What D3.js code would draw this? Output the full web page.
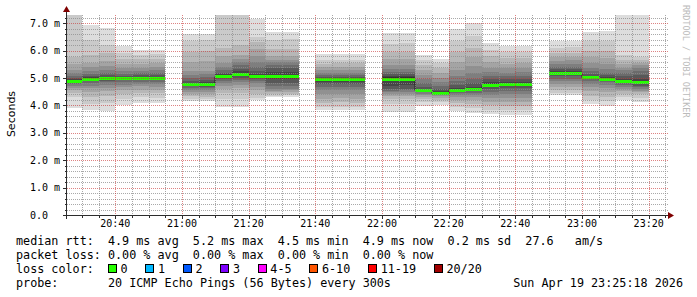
<!DOCTYPE html>
<html>
<head>
<meta charset="utf-8">
<script src="https://cdn.jsdelivr.net/npm/d3@7"></script>
<style>
  body { margin: 0; background: #fff; }
  svg { display: block; }
  text { font-family: "DejaVu Sans Mono", monospace; white-space: pre; }
</style>
</head>
<body>
<svg width="697" height="297"></svg>
<script>
// time window of the graph (3 hours)
var startTime = "20:25:30", endTime = "23:25:30";
var stepMinutes = 5;

// one slot per 300s step, start time of each step
var slotStart = ["20:25","20:30","20:35","20:40","20:45","20:50","20:55","21:00","21:05","21:10",
                 "21:15","21:20","21:25","21:30","21:35","21:40","21:45","21:50","21:55","22:00",
                 "22:05","22:10","22:15","22:20","22:25","22:30","22:35","22:40","22:45","22:50",
                 "22:55","23:00","23:05","23:10","23:15","23:20"];

// median rtt (ms) per slot, null = no data
var medianRtt = [4.90,4.97,4.99,5.00,5.00,5.00,null,4.78,4.78,5.08,
                 5.14,5.09,5.07,5.07,null,4.95,4.95,4.95,null,4.97,
                 4.97,4.55,4.47,4.58,4.60,4.76,4.79,4.79,null,5.19,
                 5.19,5.03,4.98,4.89,4.85,null];

// lost pings per slot (out of 20)
var lossPings = [0,0,0,0,0,0,null,0,0,0, 0,0,0,0,null,0,0,0,null,0,
                 0,0,0,0,0,0,0,0,null,0, 0,0,0,0,0,null];

// the 20 sorted ping times (ms) of every slot
var pings = [
  [3.89,4.31,4.45,4.56,4.65,4.72,4.78,4.83,4.87,4.89,4.91,4.95,5.00,5.07,5.18,5.29,5.50,5.77,7.50,8.60],
  [3.83,4.05,4.31,4.48,4.62,4.72,4.82,4.88,4.93,4.96,4.98,5.02,5.08,5.15,5.26,5.40,5.54,5.85,6.38,6.93],
  [3.79,4.10,4.35,4.52,4.65,4.75,4.84,4.90,4.95,4.98,5.00,5.04,5.10,5.18,5.30,5.45,5.62,5.90,6.20,6.83],
  [4.01,4.25,4.42,4.55,4.66,4.76,4.85,4.91,4.96,4.99,5.01,5.04,5.09,5.16,5.25,5.36,5.50,5.70,5.92,6.17],
  [4.07,4.30,4.46,4.58,4.70,4.79,4.87,4.93,4.97,4.99,5.01,5.05,5.10,5.18,5.27,5.38,5.52,5.68,5.85,6.02],
  [4.07,4.28,4.45,4.57,4.68,4.78,4.86,4.92,4.96,4.99,5.01,5.05,5.11,5.19,5.28,5.40,5.53,5.70,5.86,6.03],
  null,
  [4.15,4.25,4.33,4.42,4.50,4.58,4.64,4.70,4.74,4.77,4.79,4.83,4.90,5.00,5.12,5.25,5.60,5.95,6.35,6.60],
  [4.15,4.24,4.32,4.41,4.50,4.57,4.63,4.69,4.74,4.77,4.79,4.84,4.92,5.02,5.14,5.27,5.62,5.98,6.38,6.60],
  [3.95,4.25,4.45,4.60,4.72,4.82,4.90,4.97,5.02,5.06,5.10,5.14,5.20,5.28,5.40,5.55,5.80,6.10,7.40,8.20],
  [3.94,4.22,4.45,4.62,4.74,4.84,4.92,5.00,5.08,5.12,5.16,5.24,5.34,5.46,5.58,5.70,5.85,6.20,7.45,8.00],
  [4.19,4.26,4.40,4.55,4.68,4.80,4.90,4.98,5.04,5.08,5.10,5.16,5.26,5.40,5.58,5.80,6.05,6.30,6.50,7.17],
  [4.29,4.36,4.42,4.48,4.54,4.60,4.70,4.82,4.95,5.04,5.10,5.22,5.36,5.48,5.58,5.66,5.80,6.05,6.40,6.68],
  [4.29,4.37,4.43,4.49,4.55,4.61,4.71,4.83,4.96,5.04,5.10,5.23,5.37,5.49,5.59,5.67,5.82,6.07,6.42,6.68],
  null,
  [3.83,3.95,4.10,4.25,4.40,4.55,4.67,4.78,4.86,4.93,4.97,5.00,5.04,5.10,5.18,5.28,5.40,5.52,5.66,5.87],
  [3.83,3.96,4.11,4.26,4.41,4.56,4.68,4.78,4.86,4.93,4.97,5.00,5.04,5.10,5.18,5.28,5.40,5.53,5.67,5.87],
  [3.83,3.95,4.10,4.25,4.40,4.55,4.67,4.78,4.87,4.93,4.97,5.01,5.05,5.11,5.19,5.29,5.41,5.53,5.66,5.86],
  null,
  [3.77,4.05,4.22,4.34,4.42,4.48,4.54,4.60,4.72,4.92,5.02,5.08,5.14,5.22,5.33,5.48,5.68,5.95,6.25,6.65],
  [3.77,4.06,4.23,4.35,4.43,4.49,4.55,4.61,4.73,4.92,5.02,5.08,5.15,5.23,5.34,5.49,5.70,5.96,6.26,6.65],
  [3.97,4.12,4.22,4.30,4.37,4.43,4.48,4.51,4.53,4.54,4.56,4.60,4.68,4.80,4.95,5.10,5.28,5.48,5.65,5.83],
  [4.01,4.12,4.21,4.28,4.34,4.39,4.42,4.44,4.46,4.47,4.48,4.52,4.60,4.72,4.86,5.00,5.18,5.38,5.55,5.71],
  [3.79,3.95,4.08,4.20,4.30,4.39,4.46,4.51,4.55,4.57,4.59,4.65,4.75,4.90,5.08,5.30,5.60,5.95,6.35,6.80],
  [3.71,3.90,4.05,4.18,4.29,4.38,4.46,4.52,4.56,4.59,4.61,4.68,4.80,4.98,5.20,5.45,5.75,6.10,6.55,7.01],
  [3.68,3.85,4.00,4.14,4.26,4.38,4.50,4.60,4.68,4.74,4.78,4.85,4.95,5.08,5.22,5.38,5.58,5.80,6.02,6.26],
  [3.65,3.82,3.98,4.12,4.26,4.40,4.52,4.62,4.70,4.76,4.80,4.86,4.95,5.06,5.20,5.35,5.52,5.72,5.95,6.17],
  [3.65,3.83,3.99,4.13,4.27,4.41,4.53,4.63,4.71,4.77,4.81,4.87,4.96,5.07,5.21,5.36,5.53,5.73,5.95,6.17],
  null,
  [4.37,4.45,4.55,4.66,4.77,4.88,4.98,5.06,5.12,5.17,5.21,5.26,5.33,5.42,5.52,5.63,5.76,5.92,6.10,6.36],
  [4.37,4.46,4.56,4.67,4.78,4.89,4.98,5.06,5.12,5.17,5.21,5.26,5.33,5.42,5.52,5.64,5.77,5.93,6.12,6.36],
  [4.05,4.20,4.36,4.52,4.66,4.78,4.88,4.95,4.99,5.02,5.04,5.08,5.14,5.24,5.38,5.55,5.75,6.00,6.35,6.68],
  [3.97,4.15,4.32,4.48,4.62,4.74,4.84,4.91,4.95,4.97,4.99,5.03,5.10,5.20,5.34,5.50,5.72,5.98,6.35,6.72],
  [4.19,4.30,4.42,4.52,4.60,4.68,4.75,4.80,4.85,4.88,4.90,4.96,5.06,5.18,5.28,5.36,5.50,5.65,5.83,8.00],
  [4.13,4.28,4.40,4.48,4.54,4.60,4.66,4.72,4.78,4.83,4.87,4.98,5.12,5.26,5.38,5.46,5.55,5.65,5.77,7.90],
  null
];

// y axis labels
var yTickValues = [0, 1, 2, 3, 4, 5, 6, 7];
var yTickLabels = ["0.0", "1.0 m", "2.0 m", "3.0 m", "4.0 m", "5.0 m", "6.0 m", "7.0 m"];

// legend
var rttStats = [4.9, 5.2, 4.5, 4.9, 0.2];
var rttStatNames = ["avg", "max", "min", "now", "sd"];
var amps = 27.6;
var lossStats = [0.00, 0.00, 0.00, 0.00];
var lossStatNames = ["avg", "max", "min", "now"];
var lossLabels = ["0", "1", "2", "3", "4-5", "6-10", "11-19", "20/20"];
var lossColors = ["#26ff00", "#00b8ff", "#0059ff", "#7e00ff", "#ff00fe", "#ff5500", "#ff0000", "#a10000"];
var lossLimits = [0, 1, 2, 3, 5, 10, 19, 20];
var probeText = "20 ICMP Echo Pings (56 Bytes) every 300s";
var stampText = "Sun Apr 19 23:25:18 2026";

var svg = d3.select("svg");
var plotL = 67, plotR = 667, plotT = 15, plotB = 215;

var parseHMS = d3.timeParse("%H:%M:%S"), parseHM = d3.timeParse("%H:%M");
var t0 = parseHMS(startTime), t1 = parseHMS(endTime);

var x = d3.scaleTime().domain([t0, t1]).range([plotL, plotR]);
var y = d3.scaleLinear().domain([0, 7.3]).range([plotB, plotT]);

svg.append("defs").append("clipPath").attr("id", "plot")
  .append("rect").attr("x", plotL).attr("y", plotT).attr("width", plotR - plotL).attr("height", plotB - plotT);

var slots = slotStart.map(function (s, i) {
  var st = parseHM(s);
  return { start: st, end: d3.timeMinute.offset(st, stepMinutes), med: medianRtt[i], loss: lossPings[i], p: pings[i] };
});

// smoke: ping i .. ping 19-i, darker towards the middle
var bands = [];
slots.forEach(function (s) {
  if (!s.p) return;
  for (var i = 0; i < 10; i++) {
    bands.push({ start: s.start, end: s.end, lo: s.p[i], hi: s.p[19 - i], level: i + 1 });
  }
});
function smokeGray(level) {
  var g = Math.floor(190 / 10 * (10 - level)) + 50;
  return d3.rgb(g, g, g);
}

var plot = svg.append("g").attr("clip-path", "url(#plot)");
plot.selectAll("rect.smoke")
  .data(bands)
  .join("rect")
  .attr("class", "smoke")
  .attr("x", function (d) { return Math.round(x(d.start)); })
  .attr("width", function (d) { return Math.round(x(d.end)) - Math.round(x(d.start)); })
  .attr("y", function (d) { return y(d.hi); })
  .attr("height", function (d) { return y(d.lo) - y(d.hi); })
  .attr("fill", function (d) { return smokeGray(d.level); })
  .attr("shape-rendering", "crispEdges");

// median as a step line (dark), then coloured by loss
var medPts = [];
slots.forEach(function (s, i) {
  medPts.push({ t: s.start, v: s.med });
  var next = slots[i + 1];
  if (s.med != null && (!next || next.med == null)) medPts.push({ t: s.end, v: s.med });
});
var medLine = d3.line()
  .defined(function (d) { return d.v != null; })
  .x(function (d) { return Math.round(x(d.t)); })
  .y(function (d) { return Math.round(y(d.v)) + 0.5; })
  .curve(d3.curveStepAfter);
plot.append("path").datum(medPts)
  .attr("d", medLine)
  .attr("fill", "none")
  .attr("stroke", "#202020")
  .attr("stroke-width", 1);

function lossColor(n) {
  for (var i = 0; i < lossLimits.length; i++) if (n <= lossLimits[i]) return lossColors[i];
  return lossColors[lossColors.length - 1];
}
plot.selectAll("line.med")
  .data(slots.filter(function (s) { return s.med != null; }))
  .join("line")
  .attr("class", "med")
  .attr("x1", function (d) { return Math.round(x(d.start)); })
  .attr("x2", function (d) { return Math.round(x(d.end)); })
  .attr("y1", function (d) { return Math.round(y(d.med)) + 0.5; })
  .attr("y2", function (d) { return Math.round(y(d.med)) + 0.5; })
  .attr("stroke", function (d) { return lossColor(d.loss); })
  .attr("stroke-width", 3);

// grid on top
var grid = svg.append("g");
var minorY = d3.range(0.2, 7.3, 0.2).filter(function (v) { return Math.abs(v - Math.round(v)) > 1e-6; });
var minorX = d3.timeMinute.every(5).range(t0, t1).filter(function (t) { return t.getMinutes() % 20 != 0; });
var majorX = d3.timeMinute.every(20).range(t0, t1);

function hLines(vals, color, op) {
  grid.append("g").selectAll("line").data(vals).join("line")
    .attr("x1", plotL).attr("x2", plotR + 1)
    .attr("y1", function (d) { return Math.round(y(d)) + 0.5; })
    .attr("y2", function (d) { return Math.round(y(d)) + 0.5; })
    .attr("stroke", color).attr("stroke-opacity", op)
    .attr("stroke-dasharray", "1,1");
}
function vLines(vals, color, op) {
  grid.append("g").selectAll("line").data(vals).join("line")
    .attr("y1", plotT).attr("y2", plotB)
    .attr("x1", function (d) { return Math.round(x(d)) + 0.5; })
    .attr("x2", function (d) { return Math.round(x(d)) + 0.5; })
    .attr("stroke", color).attr("stroke-opacity", op)
    .attr("stroke-dasharray", "1,1");
}
hLines(minorY, "#8c8c8c", 0.75);
vLines(minorX, "#8c8c8c", 0.75);
hLines(yTickValues.filter(function (v) { return v > 0; }), "#c83030", 0.6);
vLines(majorX, "#c83030", 0.6);

// axes with ticks and arrows
var axisColor = "#2c2c2c", arrowColor = "#7f0000";
var axes = svg.append("g").attr("shape-rendering", "crispEdges");
axes.append("line").attr("x1", plotL - 4).attr("x2", plotR + 2).attr("y1", plotB + 0.5).attr("y2", plotB + 0.5).attr("stroke", axisColor);
axes.append("line").attr("x1", plotL - 0.5).attr("x2", plotL - 0.5).attr("y1", plotB + 4).attr("y2", plotT - 3).attr("stroke", axisColor);
axes.selectAll("line.yt").data(minorY.concat(yTickValues)).join("line").attr("class", "yt")
  .attr("x1", function (d) { return Number.isInteger(d) ? plotL - 4 : plotL - 2; }).attr("x2", plotL)
  .attr("y1", function (d) { return Math.round(y(d)) + 0.5; })
  .attr("y2", function (d) { return Math.round(y(d)) + 0.5; })
  .attr("stroke", axisColor);
axes.selectAll("line.xt").data(minorX.concat(majorX)).join("line").attr("class", "xt")
  .attr("y1", plotB).attr("y2", function (d) { return d.getMinutes() % 20 == 0 ? plotB + 4 : plotB + 3; })
  .attr("x1", function (d) { return Math.round(x(d)) + 0.5; })
  .attr("x2", function (d) { return Math.round(x(d)) + 0.5; })
  .attr("stroke", axisColor);
svg.append("path").attr("d", "M" + (plotR + 1) + "," + (plotB - 3) + "L" + (plotR + 7) + "," + (plotB + 0.5) + "L" + (plotR + 1) + "," + (plotB + 4) + "Z").attr("fill", arrowColor);
svg.append("path").attr("d", "M" + (plotL - 4) + "," + (plotT - 3) + "L" + (plotL - 0.5) + "," + (plotT - 9) + "L" + (plotL + 3) + "," + (plotT - 3) + "Z").attr("fill", arrowColor);

// axis labels
svg.selectAll("text.ylab").data(yTickValues).join("text").attr("class", "ylab")
  .attr("x", 30).attr("y", function (d) { return y(d) + 3.5; })
  .attr("font-size", "10px").attr("fill", "#000")
  .text(function (d, i) { return yTickLabels[i]; });
var fmtTime = d3.timeFormat("%H:%M");
svg.selectAll("text.xlab").data(majorX).join("text").attr("class", "xlab")
  .attr("x", function (d) { return x(d); }).attr("y", 227)
  .attr("text-anchor", "middle").attr("font-size", "10px").attr("fill", "#000")
  .text(fmtTime);

svg.append("text")
  .attr("transform", "translate(15,114) rotate(-90)")
  .attr("text-anchor", "middle")
  .style("font-family", "'DejaVu Sans', sans-serif")
  .attr("font-size", "11px")
  .text("Seconds");

svg.append("text")
  .attr("transform", "translate(683,5) rotate(90)")
  .attr("font-size", "8.5px").attr("fill", "#bbbbbb")
  .text("RRDTOOL / TOBI OETIKER");

// legend
var lg = svg.append("g").attr("font-size", "11.75px").attr("fill", "#000");
var cw = 11.75 * 0.602;
var f1 = d3.format(".1f"), f2 = d3.format(".2f");
var line1 = "median rtt:  " + rttStats.map(function (v, i) { return f1(v) + " ms " + rttStatNames[i]; }).join("  ") + "  " + f1(amps) + "   am/s";
var line2 = "packet loss: " + lossStats.map(function (v, i) { return f2(v) + " % " + lossStatNames[i]; }).join("  ");
lg.append("text").attr("x", 16).attr("y", 245).text(line1);
lg.append("text").attr("x", 16).attr("y", 259).text(line2);
lg.append("text").attr("x", 16).attr("y", 273).text("loss color:");
var bx = 16 + 13 * cw;
lossLabels.forEach(function (lab, i) {
  lg.append("rect").attr("x", Math.round(bx) + 0.5).attr("y", 264.5).attr("width", 8).attr("height", 8)
    .attr("fill", lossColors[i]).attr("stroke", "#000");
  lg.append("text").attr("x", bx + 12.5).attr("y", 273).text(lab);
  bx = bx + 12.5 + lab.length * cw + 17.9;
});
lg.append("text").attr("x", 16).attr("y", 287).text("probe:       " + probeText);
lg.append("text").attr("x", 683).attr("y", 287).attr("text-anchor", "end").text(stampText);
</script>
</body>
</html>
